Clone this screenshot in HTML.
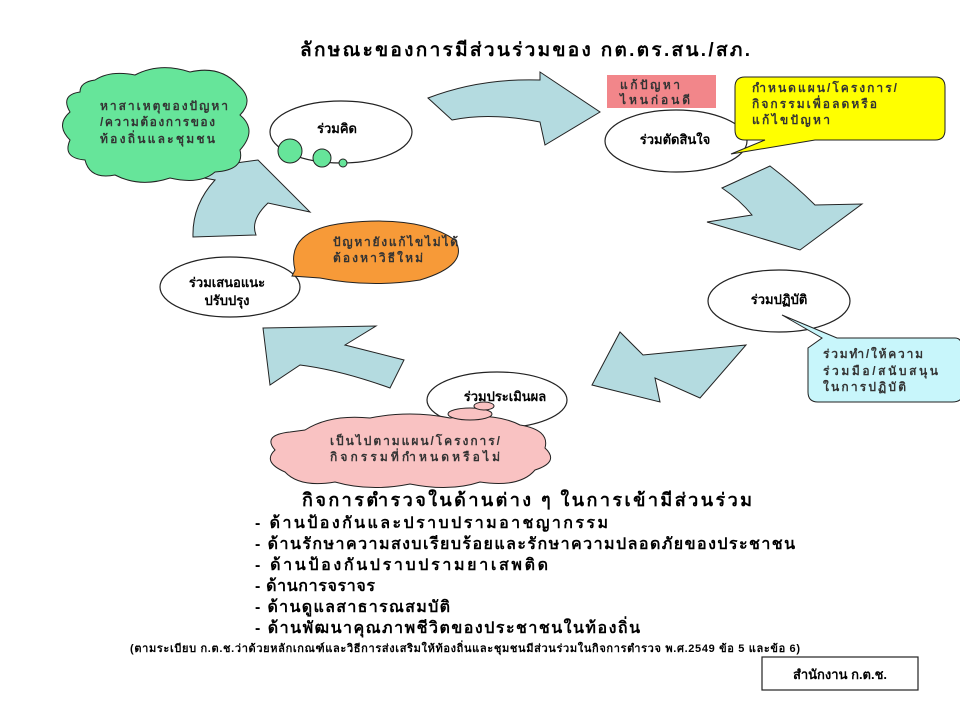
<!DOCTYPE html>
<html><head><meta charset="utf-8"><style>
body{margin:0;background:#fff;}
svg text{font-family:"Liberation Sans","DejaVu Sans",sans-serif;font-weight:bold;}
</style></head><body>
<svg width="960" height="720" viewBox="0 0 960 720" xmlns="http://www.w3.org/2000/svg">
<text x="300" y="56" font-size="19" textLength="450" lengthAdjust="spacing" fill="#000">ลักษณะของการมีส่วนร่วมของ กต.ตร.สน./สภ.</text>

<!-- arrows -->
<g fill="#b4dbe0" stroke="#222" stroke-width="1">
<path d="M428,98 Q480,78 540,80 L540,72 L600,112 L545,145 L540,122 Q490,112 452,120 Z"/>
<path d="M722,188 L770,166 Q795,185 815,205 L862,204 L800,250 L707,222 L752,215 Q740,200 722,188 Z"/>
<path d="M592,385 L620,332 L643,355 L746,345 L700,398 L655,378 L660,402 Z"/>
<path d="M263,328 L376,326 L345,345 L404,360 L390,388 Q340,370 300,365 L270,385 Z"/>
<path d="M193,237 Q192,205 215,180 L170,172 L258,160 L310,212 L268,203 Q250,220 256,235 Z"/>
</g>

<!-- green cloud -->
<g fill="#66e59a" stroke="#222" stroke-width="1">
<path d="M95,80 Q110,70 135,75 Q160,62 190,72 Q220,65 238,85 Q255,100 240,115 Q258,130 240,150 Q245,170 215,172 Q200,185 170,178 Q140,188 115,175 Q90,180 85,160 Q62,158 70,140 Q55,125 70,112 Q60,95 80,92 Q80,82 95,80 Z"/>
</g>
<g font-size="12" fill="#333">
<text x="100" y="110" textLength="128" lengthAdjust="spacing">หาสาเหตุของปัญหา</text>
<text x="100" y="126" textLength="115" lengthAdjust="spacing">/ความต้องการของ</text>
<text x="100" y="143" textLength="115" lengthAdjust="spacing">ท้องถิ่นและชุมชน</text>
</g>

<!-- ellipses -->
<g fill="#fff" stroke="#222" stroke-width="1.2">
<ellipse cx="341" cy="132" rx="71" ry="31"/>
<ellipse cx="676" cy="141" rx="71" ry="31"/>
<ellipse cx="779" cy="301" rx="71" ry="31"/>
<ellipse cx="230" cy="287" rx="70" ry="30"/>
<ellipse cx="497" cy="400" rx="70" ry="28"/>
</g>
<g fill="#66e59a" stroke="#222" stroke-width="1">
<circle cx="290" cy="151" r="12"/><circle cx="322" cy="158" r="9"/><circle cx="343" cy="163" r="4"/>
</g>

<!-- pink rect -->
<rect x="607" y="75" width="109" height="33" fill="#f2868a"/>
<text x="620" y="89" font-size="12" fill="#333" textLength="60" lengthAdjust="spacing">แก้ปัญหา</text>
<text x="620" y="104" font-size="12" fill="#333" textLength="70" lengthAdjust="spacing">ไหนก่อนดี</text>

<!-- yellow callout -->
<path d="M745,77 L935,77 Q945,77 945,87 L945,130 Q945,140 935,140 L815,140 L731,154 L765,140 L745,140 Q735,140 735,130 L735,87 Q735,77 745,77 Z" fill="#ffff00" stroke="#222" stroke-width="1"/>
<g font-size="12" fill="#333">
<text x="752" y="92" textLength="145" lengthAdjust="spacing">กำหนดแผน/โครงการ/</text>
<text x="752" y="108" textLength="125" lengthAdjust="spacing">กิจกรรมเพื่อลดหรือ</text>
<text x="752" y="124" textLength="78" lengthAdjust="spacing">แก้ไขปัญหา</text>
</g>

<!-- orange callout -->
<path d="M295,270 Q285,230 345,223 Q420,215 455,240 Q470,265 420,280 Q370,288 320,278 L292,276 Z" fill="#f79a38" stroke="#222" stroke-width="1"/>
<text x="333" y="246" font-size="12" fill="#333" textLength="125" lengthAdjust="spacing">ปัญหายังแก้ไขไม่ได้</text>
<text x="333" y="262" font-size="12" fill="#333" textLength="90" lengthAdjust="spacing">ต้องหาวิธีใหม่</text>

<!-- cyan callout -->
<path d="M782,315 L837,338 L955,338 Q962,338 962,348 L962,395 Q962,402 952,402 L818,402 Q808,402 808,392 L808,348 L822,338 Z" fill="#c8f6fb" stroke="#222" stroke-width="1"/>
<g font-size="12" fill="#333">
<text x="823" y="358" textLength="100" lengthAdjust="spacing">ร่วมทำ/ให้ความ</text>
<text x="823" y="375" textLength="115" lengthAdjust="spacing">ร่วมมือ/สนับสนุน</text>
<text x="823" y="391" textLength="83" lengthAdjust="spacing">ในการปฏิบัติ</text>
</g>

<!-- pink cloud -->
<g fill="#f9c2c2" stroke="#222" stroke-width="1">
<path d="M305,430 Q330,414 370,418 Q410,410 450,418 Q495,412 520,425 Q550,430 545,448 Q560,462 535,470 Q520,488 480,482 Q450,492 410,484 Q370,492 335,482 Q300,488 285,472 Q262,462 275,450 Q262,435 290,432 Z"/>
<ellipse cx="470" cy="414" rx="22" ry="6"/>
<ellipse cx="484" cy="406" rx="10" ry="4"/>
</g>
<text x="330" y="445" font-size="12" fill="#333" textLength="170" lengthAdjust="spacing">เป็นไปตามแผน/โครงการ/</text>
<text x="330" y="461" font-size="12" fill="#333" textLength="170" lengthAdjust="spacing">กิจกรรมที่กำหนดหรือไม่</text>

<!-- ellipse labels -->
<g font-size="13" fill="#000" text-anchor="middle">
<text x="337" y="133">ร่วมคิด</text>
<text x="675" y="144">ร่วมตัดสินใจ</text>
<text x="779" y="304">ร่วมปฏิบัติ</text>
<text x="227" y="287">ร่วมเสนอแนะ</text>
<text x="227" y="305">ปรับปรุง</text>
<text x="505" y="401">ร่วมประเมินผล</text>
</g>

<text x="302" y="506" font-size="18" textLength="450" lengthAdjust="spacing" fill="#000">กิจการตำรวจในด้านต่าง ๆ ในการเข้ามีส่วนร่วม</text>
<g font-size="16" fill="#000" font-weight="normal">
<text x="255" y="528" textLength="353" lengthAdjust="spacing">- ด้านป้องกันและปราบปรามอาชญากรรม</text>
<text x="255" y="549" textLength="540" lengthAdjust="spacing">- ด้านรักษาความสงบเรียบร้อยและรักษาความปลอดภัยของประชาชน</text>
<text x="255" y="570" textLength="293" lengthAdjust="spacing">- ด้านป้องกันปราบปรามยาเสพติด</text>
<text x="255" y="591" textLength="120" lengthAdjust="spacing">- ด้านการจราจร</text>
<text x="255" y="612" textLength="195" lengthAdjust="spacing">- ด้านดูแลสาธารณสมบัติ</text>
<text x="255" y="633" textLength="385" lengthAdjust="spacing">- ด้านพัฒนาคุณภาพชีวิตของประชาชนในท้องถิ่น</text>
</g>
<text x="130" y="652" font-size="11" fill="#000" textLength="670" lengthAdjust="spacing">(ตามระเบียบ ก.ต.ช.ว่าด้วยหลักเกณฑ์และวิธีการส่งเสริมให้ท้องถิ่นและชุมชนมีส่วนร่วมในกิจการตำรวจ พ.ศ.2549 ข้อ 5 และข้อ 6)</text>
<rect x="762" y="657" width="156" height="33" fill="#fff" stroke="#222" stroke-width="1.2"/>
<text x="840" y="679" font-size="13" text-anchor="middle" fill="#000">สำนักงาน ก.ต.ช.</text>
</svg>
</body></html>
